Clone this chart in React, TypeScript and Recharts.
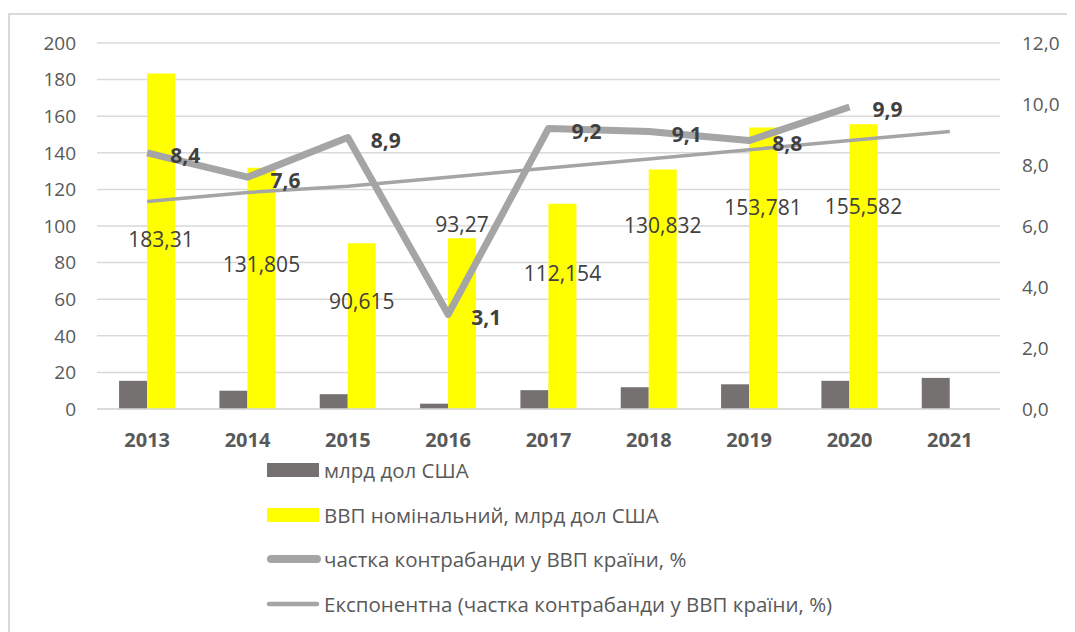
import {
  ComposedChart,
  Bar,
  Line,
  XAxis,
  YAxis,
  CartesianGrid,
  Legend,
  LabelList,
} from "recharts";

const YEARS = ["2013", "2014", "2015", "2016", "2017", "2018", "2019", "2020", "2021"];
const CONTRABAND = [15.4, 10.0, 8.1, 2.9, 10.3, 11.9, 13.5, 15.4, 17.0];
const GDP = [183.31, 131.805, 90.615, 93.27, 112.154, 130.832, 153.781, 155.582, null];
const SHARE = [8.4, 7.6, 8.9, 3.1, 9.2, 9.1, 8.8, 9.9, null];
const TREND = [6.8, 7.1, 7.3, 7.6, 7.9, 8.2, 8.5, 8.8, 9.1];

const SERIES_NAMES = [
  "млрд дол США",
  "ВВП номінальний, млрд дол США",
  "частка контрабанди у ВВП країни, %",
  "Експонентна (частка контрабанди у ВВП країни, %)",
];

const LEFT_TICKS = [0, 20, 40, 60, 80, 100, 120, 140, 160, 180, 200];
const RIGHT_TICKS = [0, 2, 4, 6, 8, 10, 12];

// where Excel's hand-moved GDP labels sit, in left-axis units
const GDP_LABEL_LEVEL = [92.4, 78.8, 58.4, 100.5, 74.2, 100.3, 110.1, 110.6];

const data = YEARS.map((year, i) => ({
  year,
  contraband: CONTRABAND[i],
  gdp: GDP[i],
  share: SHARE[i],
  trend: TREND[i],
}));

const GREY_BAR = "#767171";
const YELLOW = "#ffff00";
const LINE_GREY = "#a5a5a5";
const TEXT = "#595959";
const LABEL = "#404040";

const comma = (v: number | string) => String(v).replace(".", ",");

const GdpLabel = (props: any) => {
  const { x, y, width, height, value, index } = props;
  if (value == null) return null;
  const level = GDP_LABEL_LEVEL[index];
  const ty = y + height * (1 - level / value);
  return (
    <text
      x={x + width / 2}
      y={ty}
      dy="0.35em"
      textAnchor="middle"
      fill={LABEL}
      fontSize={21}
    >
      {comma(value)}
    </text>
  );
};

const ShareLabel = (props: any) => {
  const { x, y, value } = props;
  if (value == null) return null;
  return (
    <text
      x={x + 23}
      y={y + 3}
      dy="0.35em"
      textAnchor="start"
      fill={LABEL}
      fontSize={21}
      fontWeight="bold"
    >
      {comma(value)}
    </text>
  );
};

const renderLegend = (props: any) => {
  const payload = [...(props.payload || [])].sort(
    (a: any, b: any) => SERIES_NAMES.indexOf(a.value) - SERIES_NAMES.indexOf(b.value)
  );
  return (
    <div style={{ height: 180, paddingTop: 3, boxSizing: "border-box" }}>
      {payload.map((entry: any) => {
        const idx = SERIES_NAMES.indexOf(entry.value);
        let symbol;
        if (idx === 2) {
          symbol = <line x1={8} x2={54} y1={15} y2={15} stroke={LINE_GREY} strokeWidth={8} strokeLinecap="round" />;
        } else if (idx === 3) {
          symbol = <line x1={6} x2={54} y1={15} y2={15} stroke={LINE_GREY} strokeWidth={4.5} strokeLinecap="round" />;
        } else {
          symbol = <rect x={4} y={8} width={52} height={14} fill={entry.color} />;
        }
        return (
          <div
            key={entry.value}
            style={{ display: "flex", alignItems: "center", height: 30, marginBottom: 14.7 }}
          >
            <svg width={61} height={30}>{symbol}</svg>
            <span style={{ color: TEXT, fontSize: 20.5, whiteSpace: "nowrap" }}>{entry.value}</span>
          </div>
        );
      })}
    </div>
  );
};

export default function App() {
  return (
    <div
      style={{
        position: "relative",
        width: 1067,
        height: 624,
        overflow: "hidden",
        fontFamily: "'Open Sans', sans-serif",
      }}
    >
      <div
        style={{
          position: "absolute",
          left: 0,
          top: 5,
          width: 1100,
          height: 700,
          border: "2px solid #d9d9d9",
          boxSizing: "border-box",
        }}
      />
      <div style={{ position: "absolute", left: 0, top: 0 }}>
        <ComposedChart
          width={1067}
          height={624}
          data={data}
          margin={{ top: 35, right: 0, bottom: 0, left: 0 }}
          barCategoryGap="22%"
          barGap={0}
        >
          <CartesianGrid vertical={false} stroke="#d9d9d9" strokeWidth={1.5} yAxisId="left" />
          <XAxis
            dataKey="year"
            height={43}
            axisLine={{ stroke: "#d9d9d9", strokeWidth: 1.5 }}
            tickLine={false}
            tickMargin={18}
            tick={{ fill: TEXT, fontSize: 20, fontWeight: "bold" }}
          />
          <YAxis
            yAxisId="left"
            orientation="left"
            width={89}
            domain={[0, 200]}
            ticks={LEFT_TICKS}
            axisLine={false}
            tickLine={false}
            tickMargin={15}
            tick={{ fill: TEXT, fontSize: 19 }}
          />
          <YAxis
            yAxisId="right"
            orientation="right"
            width={75}
            domain={[0, 12]}
            ticks={RIGHT_TICKS}
            axisLine={false}
            tickLine={false}
            tickMargin={16}
            tickFormatter={(v: number) => v.toFixed(1).replace(".", ",")}
            tick={{ fill: TEXT, fontSize: 19 }}
          />
          <Legend
            layout="vertical"
            align="center"
            verticalAlign="bottom"
            content={renderLegend}
            wrapperStyle={{ left: 255, bottom: 0, width: "auto" }}
          />
          <Bar
            yAxisId="left"
            dataKey="contraband"
            name={SERIES_NAMES[0]}
            fill={GREY_BAR}
            isAnimationActive={false}
          />
          <Bar
            yAxisId="left"
            dataKey="gdp"
            name={SERIES_NAMES[1]}
            fill={YELLOW}
            isAnimationActive={false}
          >
            <LabelList dataKey="gdp" content={GdpLabel} />
          </Bar>
          <Line
            yAxisId="right"
            dataKey="share"
            name={SERIES_NAMES[2]}
            stroke={LINE_GREY}
            strokeWidth={7}
            strokeLinejoin="round"
            dot={false}
            activeDot={false}
            isAnimationActive={false}
          >
            <LabelList dataKey="share" content={ShareLabel} />
          </Line>
          <Line
            yAxisId="right"
            dataKey="trend"
            name={SERIES_NAMES[3]}
            stroke={LINE_GREY}
            strokeWidth={3.5}
            dot={false}
            activeDot={false}
            isAnimationActive={false}
          />
        </ComposedChart>
      </div>
    </div>
  );
}
